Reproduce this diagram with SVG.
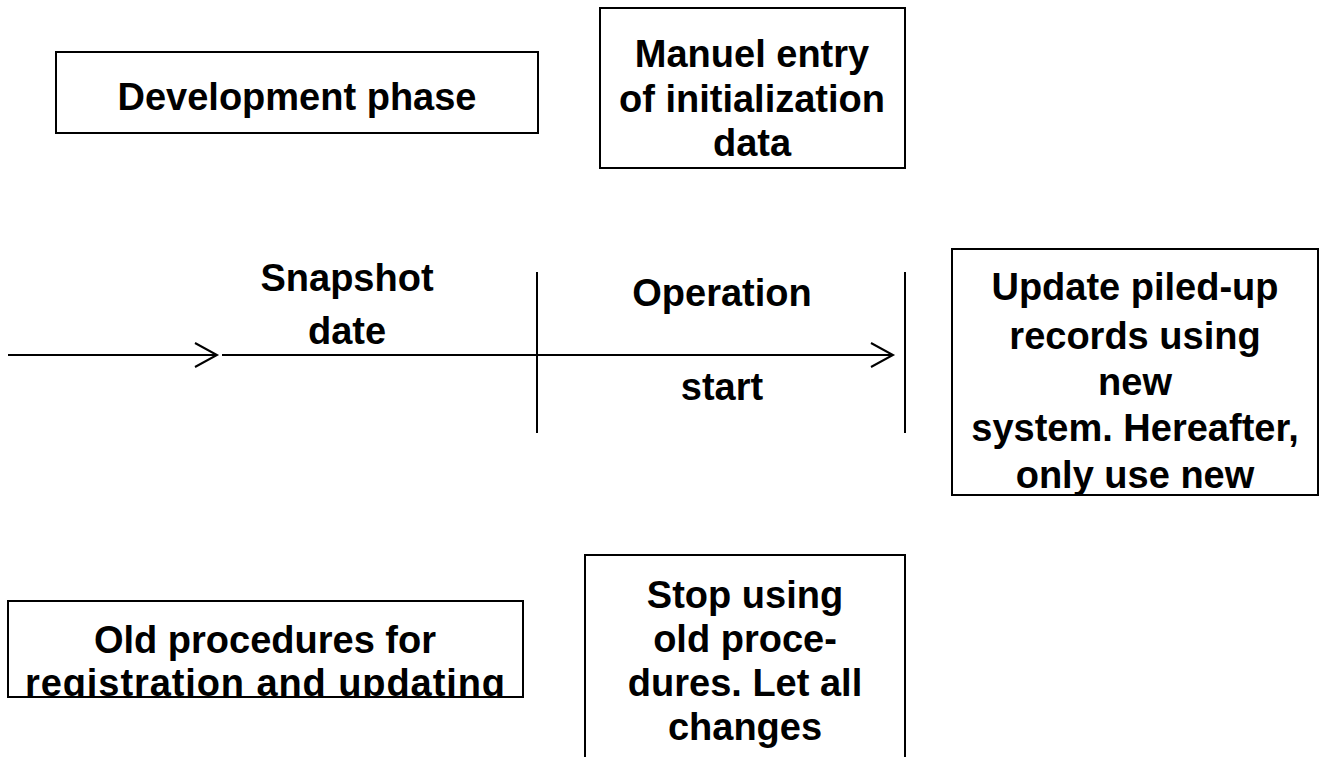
<svg xmlns="http://www.w3.org/2000/svg" width="1323" height="757" viewBox="0 0 1323 757">
<style>
.box{fill:#fff;stroke:#000;stroke-width:2}
.t{font-family:"Liberation Sans",Arial,sans-serif;font-weight:bold;font-size:38px;fill:#000;text-anchor:middle}
.ln{stroke:#000;stroke-width:2;fill:none}
</style>
<defs>
<marker id="open" markerUnits="userSpaceOnUse" markerWidth="30" markerHeight="30" refX="24" refY="12" orient="auto" viewBox="0 0 30 24">
<path d="M2,0 L24,12 L2,24" fill="none" stroke="#000" stroke-width="2"/>
</marker>
<clipPath id="clipOld"><rect x="8" y="601" width="515" height="96"/></clipPath>
</defs>
<rect width="1323" height="757" fill="#fff"/>
<g id="connectors">
<line class="ln" x1="8" y1="355" x2="217" y2="355" marker-end="url(#open)"/>
<line class="ln" x1="222" y1="355" x2="893" y2="355" marker-end="url(#open)"/>
<line class="ln" x1="537" y1="272" x2="537" y2="433"/>
<line class="ln" x1="905" y1="272" x2="905" y2="433"/>
</g>
<g id="dev">
<rect class="box" x="56" y="52" width="482" height="81"/>
<text class="t" x="297" y="110">Development phase</text>
</g>
<g id="manual">
<rect class="box" x="600" y="8" width="305" height="160"/>
<text class="t" x="752" y="67">Manuel entry</text>
<text class="t" x="752" y="112">of initialization</text>
<text class="t" x="752" y="156">data</text>
</g>
<g id="snapshot">
<text class="t" x="347" y="291">Snapshot</text>
<text class="t" x="347" y="344">date</text>
</g>
<g id="operation">
<text class="t" x="722" y="306">Operation</text>
<text class="t" x="722" y="400">start</text>
</g>
<g id="update">
<rect class="box" x="952" y="249" width="366" height="246"/>
<text class="t" x="1135" y="300">Update piled-up</text>
<text class="t" x="1135" y="349">records using</text>
<text class="t" x="1135" y="395">new</text>
<text class="t" x="1135" y="441">system. Hereafter,</text>
<text class="t" x="1135" y="488">only use new</text>
</g>
<g id="old">
<rect class="box" x="8" y="601" width="515" height="96"/>
<g clip-path="url(#clipOld)">
<text class="t" x="265" y="653">Old procedures for</text>
<text class="t" x="265" y="696" textLength="480" lengthAdjust="spacing">registration and updating</text>
</g>
</g>
<g id="stop">
<path class="box" d="M585,760 V555 H905 V760"/>
<text class="t" x="745" y="608">Stop using</text>
<text class="t" x="745" y="652">old proce-</text>
<text class="t" x="745" y="696">dures. Let all</text>
<text class="t" x="745" y="740">changes</text>
</g>
</svg>
